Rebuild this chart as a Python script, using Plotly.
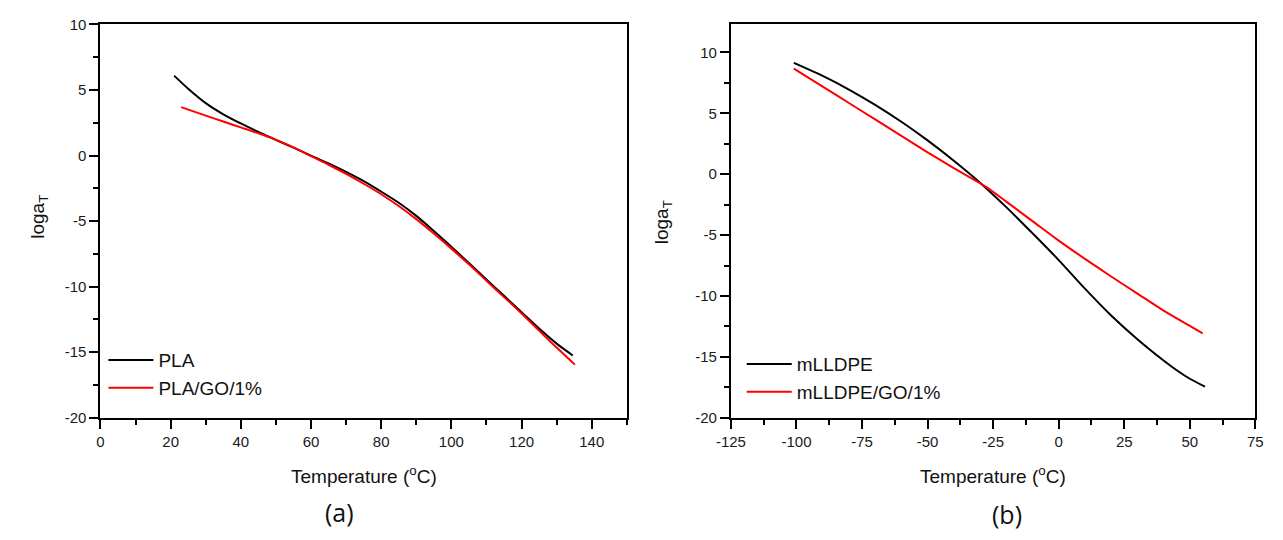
import plotly.graph_objects as go

# (a) PLA shift factors
pla_T = [21, 25, 30, 35, 40, 45, 50, 55, 60, 65, 70, 75, 80, 85, 90, 95,
         100, 105, 110, 115, 120, 125, 130, 134.6]
pla_logaT = [6.1, 5.1, 4.0, 3.15, 2.45, 1.8, 1.2, 0.6, 0.0, -0.6, -1.25, -1.95,
             -2.75, -3.6, -4.6, -5.75, -6.95, -8.2, -9.45, -10.7, -11.95, -13.2,
             -14.35, -15.25]

plago_T = [23, 30, 35, 40, 45, 50, 55, 60, 65, 70, 75, 80, 85, 90, 95, 100,
           105, 110, 115, 120, 125, 130, 135.2]
plago_logaT = [3.7, 3.05, 2.6, 2.15, 1.7, 1.2, 0.62, -0.05, -0.7, -1.4, -2.15,
               -2.95, -3.85, -4.85, -5.95, -7.1, -8.3, -9.55, -10.8, -12.05,
               -13.35, -14.65, -15.95]

# (b) mLLDPE shift factors
mlldpe_T = [-101, -90, -80, -70, -60, -50, -40, -30, -20, -10, 0, 10, 20, 30,
            40, 45, 50, 55.8]
mlldpe_logaT = [9.15, 8.08, 6.96, 5.7, 4.31, 2.78, 1.11, -0.69, -2.7, -4.85,
                -7.05, -9.4, -11.6, -13.55, -15.3, -16.1, -16.8, -17.45]

mlldpego_T = [-101, -90, -80, -70, -60, -50, -40, -28, -20, -10, 0, 10, 20,
              30, 40, 50, 54.9]
mlldpego_logaT = [8.67, 7.2, 5.85, 4.5, 3.15, 1.8, 0.5, -1.0, -2.25, -3.85,
                  -5.45, -6.95, -8.4, -9.8, -11.2, -12.45, -13.07]

# Tick positions and labels (plain hyphen for negatives)
a_xticks = [0, 20, 40, 60, 80, 100, 120, 140]
a_yticks = [-20, -15, -10, -5, 0, 5, 10]
b_xticks = [-125, -100, -75, -50, -25, 0, 25, 50, 75]
b_yticks = [-20, -15, -10, -5, 0, 5, 10]

W, H = 1283, 540
BLACK = "#000000"
RED = "#ff0000"
SANS = "Liberation Sans, Arial, sans-serif"
TICK_FONT = dict(family=SANS, size=15, color="#1a1a1a")
TITLE_FONT = dict(family=SANS, size=19, color="#111111")
LEGEND_FONT = dict(family=SANS, size=19, color="#111111")
CAPTION_FONT = dict(family="Open Sans, sans-serif", size=25, color="#111111")

fig = go.Figure()

line_w = 2
fig.add_trace(go.Scatter(x=pla_T, y=pla_logaT, mode="lines", name="PLA",
                         line=dict(color=BLACK, width=line_w, shape="spline", smoothing=0.8),
                         xaxis="x", yaxis="y", legend="legend"))
fig.add_trace(go.Scatter(x=plago_T, y=plago_logaT, mode="lines", name="PLA/GO/1%",
                         line=dict(color=RED, width=line_w, shape="spline", smoothing=0.8),
                         xaxis="x", yaxis="y", legend="legend"))
fig.add_trace(go.Scatter(x=mlldpe_T, y=mlldpe_logaT, mode="lines", name="mLLDPE",
                         line=dict(color=BLACK, width=line_w, shape="spline", smoothing=0.8),
                         xaxis="x2", yaxis="y2", legend="legend2"))
fig.add_trace(go.Scatter(x=mlldpego_T, y=mlldpego_logaT, mode="lines", name="mLLDPE/GO/1%",
                         line=dict(color=RED, width=line_w, shape="spline", smoothing=0.8),
                         xaxis="x2", yaxis="y2", legend="legend2"))


def px_x(p):
    return p / W


def px_y(p):
    return 1 - p / H


def axis_style(rng, ticks, minor_dtick, tick0=0):
    return dict(
        range=rng, tickmode="array", tickvals=ticks,
        ticktext=[str(t) for t in ticks],
        showgrid=False, zeroline=False,
        showline=True, linecolor=BLACK, linewidth=2, mirror=True,
        ticks="outside", ticklen=9, tickwidth=2, tickcolor=BLACK,
        minor=dict(ticks="outside", ticklen=5, tickwidth=2, tickcolor=BLACK,
                   dtick=minor_dtick, tick0=tick0, showgrid=False),
        tickfont=TICK_FONT,
    )


ydom = [px_y(422), px_y(16)]
left_dom = [px_x(87), px_x(623)]
right_dom = [px_x(729), px_x(1263)]

legend_common = dict(xanchor="left", yanchor="top", bgcolor="rgba(0,0,0,0)",
                     borderwidth=0, tracegroupgap=0, itemwidth=45, font=LEGEND_FONT)

fig.update_layout(
    width=W, height=H,
    margin=dict(l=0, r=0, t=0, b=0),
    paper_bgcolor="white", plot_bgcolor="white",
    xaxis=dict(domain=left_dom, anchor="y", **axis_style([0, 150], a_xticks, 10)),
    yaxis=dict(domain=ydom, anchor="x", **axis_style([-20, 10], a_yticks, 2.5)),
    xaxis2=dict(domain=right_dom, anchor="y2", **axis_style([-125, 75], b_xticks, 12.5, tick0=-125)),
    yaxis2=dict(domain=ydom, anchor="x2", **axis_style([-20, 12.3], b_yticks, 2.5)),
    legend=dict(x=px_x(90), y=px_y(343), **legend_common),
    legend2=dict(x=px_x(740), y=px_y(347), **legend_common),
    showlegend=True,
)

annotations = [
    dict(text="loga<sub>T</sub>", x=px_x(25), y=px_y(215), textangle=-90, font=TITLE_FONT),
    dict(text="loga<sub>T</sub>", x=px_x(660), y=px_y(220), textangle=-90, font=TITLE_FONT),
    dict(text="Temperature (<sup>o</sup>C)", x=px_x(355), y=px_y(481), font=TITLE_FONT),
    dict(text="Temperature (<sup>o</sup>C)", x=px_x(996), y=px_y(481), font=TITLE_FONT),
    dict(text="(a)", x=px_x(330), y=px_y(519), font=CAPTION_FONT),
    dict(text="(b)", x=px_x(1010), y=px_y(521), font=CAPTION_FONT),
]
for a in annotations:
    a.update(xref="paper", yref="paper", showarrow=False, xanchor="center", yanchor="middle")
fig.update_layout(annotations=annotations)

fig.write_html("out.html")
